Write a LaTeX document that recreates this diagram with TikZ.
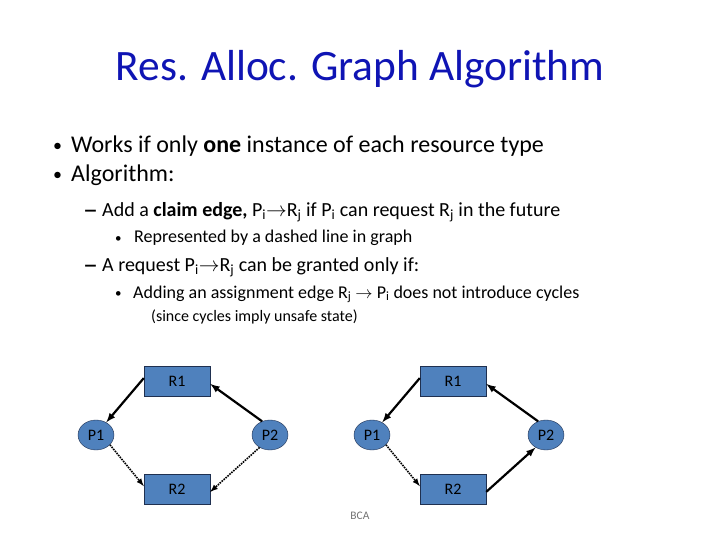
\documentclass[tikz,border=0pt]{standalone}
\usepackage{fontspec}
\setmainfont{Carlito}
\usetikzlibrary{shapes.geometric}
\definecolor{titleblue}{HTML}{0F14B4}
\definecolor{nodeblue}{HTML}{4F81BD}
\definecolor{nodeline}{HTML}{1F3050}
\newcommand{\fsize}[1]{\fontsize{#1}{#1}\selectfont}
\tikzset{
    line/.style={anchor=base west,inner sep=0pt,text=black},
    res/.style={draw=nodeline,fill=nodeblue,minimum width=66pt,minimum height=30pt,inner sep=0pt,font=\fsize{16}},
    proc/.style={ellipse,draw=nodeline,fill=nodeblue,minimum width=36pt,minimum height=30pt,inner sep=0pt,font=\fsize{16}},
    held/.style={-latex,line width=2.2pt},
    claim/.style={-latex,line width=1.6pt,densely dotted},
}
\begin{document}
\begin{tikzpicture}[x=1pt,y=-1pt]
    \useasboundingbox (0,0) rectangle (720,540);
    \node[anchor=base,inner sep=0pt,text=titleblue,font=\fsize{43.4}] (title) at (360,81) {Res. Alloc. Graph Algorithm};

    \node[line,font=\fsize{18}] (b1) at (53,152) {•};
    \node[line,font=\fsize{24}] (t1) at (71,153) {Works if only \textbf{one} instance of each resource type};
    \node[line,font=\fsize{18}] (b2) at (53,181) {•};
    \node[line,font=\fsize{24}] (t2) at (71,182) {Algorithm:};
    \node[line,font=\fsize{30}] (b3) at (83,219) {–};
    \node[line,font=\fsize{20}] (t3) at (102,216) {Add a \textbf{claim edge,} P\textsubscript{i}$\rightarrow$R\textsubscript{j} if P\textsubscript{i} can request R\textsubscript{j} in the future};
    \node[line,font=\fsize{13}] (b4) at (115,242) {•};
    \node[line,font=\fsize{18}] (t4) at (134,243) {Represented by a dashed line in graph};
    \node[line,font=\fsize{30}] (b5) at (83,274) {–};
    \node[line,font=\fsize{20}] (t5) at (102,271) {A request P\textsubscript{i}$\rightarrow$R\textsubscript{j} can be granted only if:};
    \node[line,font=\fsize{13}] (b6) at (115,297) {•};
    \node[line,font=\fsize{18}] (t6) at (133,298) {Adding an assignment edge R\textsubscript{j} $\rightarrow$ P\textsubscript{i} does not introduce cycles};
    \node[line,font=\fsize{16}] (t7) at (151,321) {(since cycles imply unsafe state)};

    \node[res] (R1a) at (177,381) {R1};
    \node[res] (R2a) at (177,489) {R2};
    \node[proc] (P1a) at (96,435) {P1};
    \node[proc] (P2a) at (270,435) {P2};
    \draw[held] (R1a.175) -- (P1a.51);
    \draw[held] (P2a.120) -- (R1a.-5);
    \draw[claim] (P1a.-35) -- (R2a.175);
    \draw[claim] (P2a.-130) -- (R2a.-5);

    \node[res] (R1b) at (453,381) {R1};
    \node[res] (R2b) at (453,489) {R2};
    \node[proc] (P1b) at (372,435) {P1};
    \node[proc] (P2b) at (546,435) {P2};
    \draw[held] (R1b.175) -- (P1b.51);
    \draw[held] (P2b.120) -- (R1b.-5);
    \draw[claim] (P1b.-35) -- (R2b.175);
    \draw[held] (R2b.-5) -- (P2b.-130);

    \node[anchor=base,inner sep=0pt,text=black!55,font=\fsize{11.5}] (bca) at (360,519) {BCA};
\end{tikzpicture}
\end{document}
